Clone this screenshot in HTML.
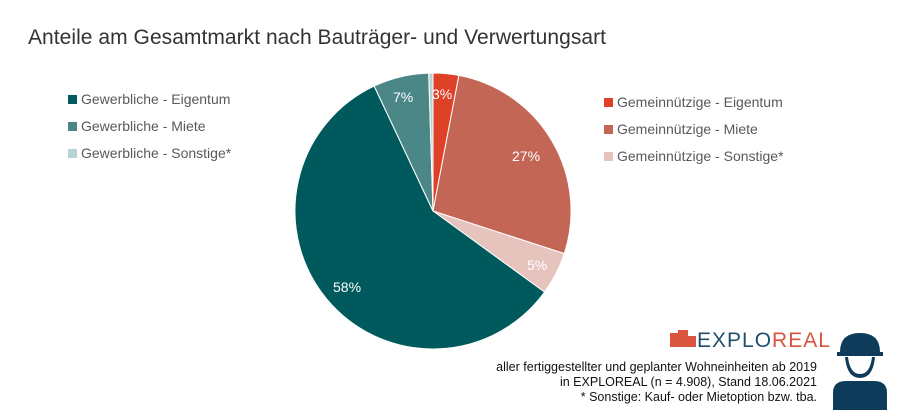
<!DOCTYPE html>
<html><head><meta charset="utf-8"><style>
body{margin:0;background:#fff;width:900px;height:410px;overflow:hidden;font-family:"Liberation Sans",sans-serif}
</style></head><body>
<svg width="900" height="410" xmlns="http://www.w3.org/2000/svg" font-family="Liberation Sans, sans-serif">
<text x="28" y="44" font-size="21" fill="#333" textLength="578">Anteile am Gesamtmarkt nach Bauträger- und Verwertungsart</text>
<g stroke="#fff" stroke-width="1">
<path d="M433,211 L433,73 A138,138 0 0 1 458.9,75.4 Z" fill="#df4128"/>
<path d="M433,211 L458.9,75.4 A138,138 0 0 1 564.3,253.6 Z" fill="#c46656"/>
<path d="M433,211 L564.3,253.6 A138,138 0 0 1 544.6,292.1 Z" fill="#e6c4bd"/>
<path d="M433,211 L544.6,292.1 A138,138 0 1 1 374.2,86.1 Z" fill="#005a5d"/>
<path d="M433,211 L374.2,86.1 A138,138 0 0 1 428.7,73.1 Z" fill="#4c8788"/>
<path d="M433,211 L428.7,73.1 A138,138 0 0 1 433,73 Z" fill="#b8d3d4"/>
</g>
<g font-size="14" fill="#fff">
<text x="432" y="99">3%</text>
<text x="393" y="102">7%</text>
<text x="512" y="161">27%</text>
<text x="527" y="270">5%</text>
<text x="333" y="292">58%</text>
</g>
<g font-size="14" fill="#595959">
<rect x="68" y="95" width="9" height="9" fill="#005a5d"/><text x="81" y="104">Gewerbliche - Eigentum</text>
<rect x="68" y="122" width="9" height="9" fill="#4c8788"/><text x="81" y="131">Gewerbliche - Miete</text>
<rect x="68" y="149" width="9" height="9" fill="#b8d3d4"/><text x="81" y="158">Gewerbliche - Sonstige*</text>
<rect x="604" y="98" width="9" height="9" fill="#df4128"/><text x="617" y="107">Gemeinnützige - Eigentum</text>
<rect x="604" y="125" width="9" height="9" fill="#c46656"/><text x="617" y="134">Gemeinnützige - Miete</text>
<rect x="604" y="152" width="9" height="9" fill="#e6c4bd"/><text x="617" y="161">Gemeinnützige - Sonstige*</text>
</g>
<g>
<rect x="670" y="333" width="8" height="14" fill="#d9553e"/>
<rect x="678" y="330" width="10" height="17" fill="#d9553e"/>
<rect x="688" y="336" width="8" height="11" fill="#d9553e"/>
<text x="697" y="347" font-size="21" fill="#1f4e6e" letter-spacing="1">EXPLO<tspan fill="#d9553e">REAL</tspan></text>
</g>
<g font-size="12.5" fill="#111" text-anchor="end">
<text x="817" y="371">aller fertiggestellter und geplanter Wohneinheiten ab 2019</text>
<text x="817" y="386">in EXPLOREAL (n = 4.908), Stand 18.06.2021</text>
<text x="817" y="401">* Sonstige: Kauf- oder Mietoption bzw. tba.</text>
</g>
<g fill="#0e3b5a">
<path d="M840,352 Q840,333 860,333 Q880,333 880,352 L883,352 L883,356 L837,356 L837,352 Z"/>
<path d="M845,357 Q847,378 860,378 Q873,378 875,357 L872,357 Q870,374 860,374 Q850,374 848,357 Z"/>
<path d="M833,410 L833,393 Q833,381 846,381 L874,381 Q887,381 887,393 L887,410 Z"/>
</g>
</svg>
</body></html>
